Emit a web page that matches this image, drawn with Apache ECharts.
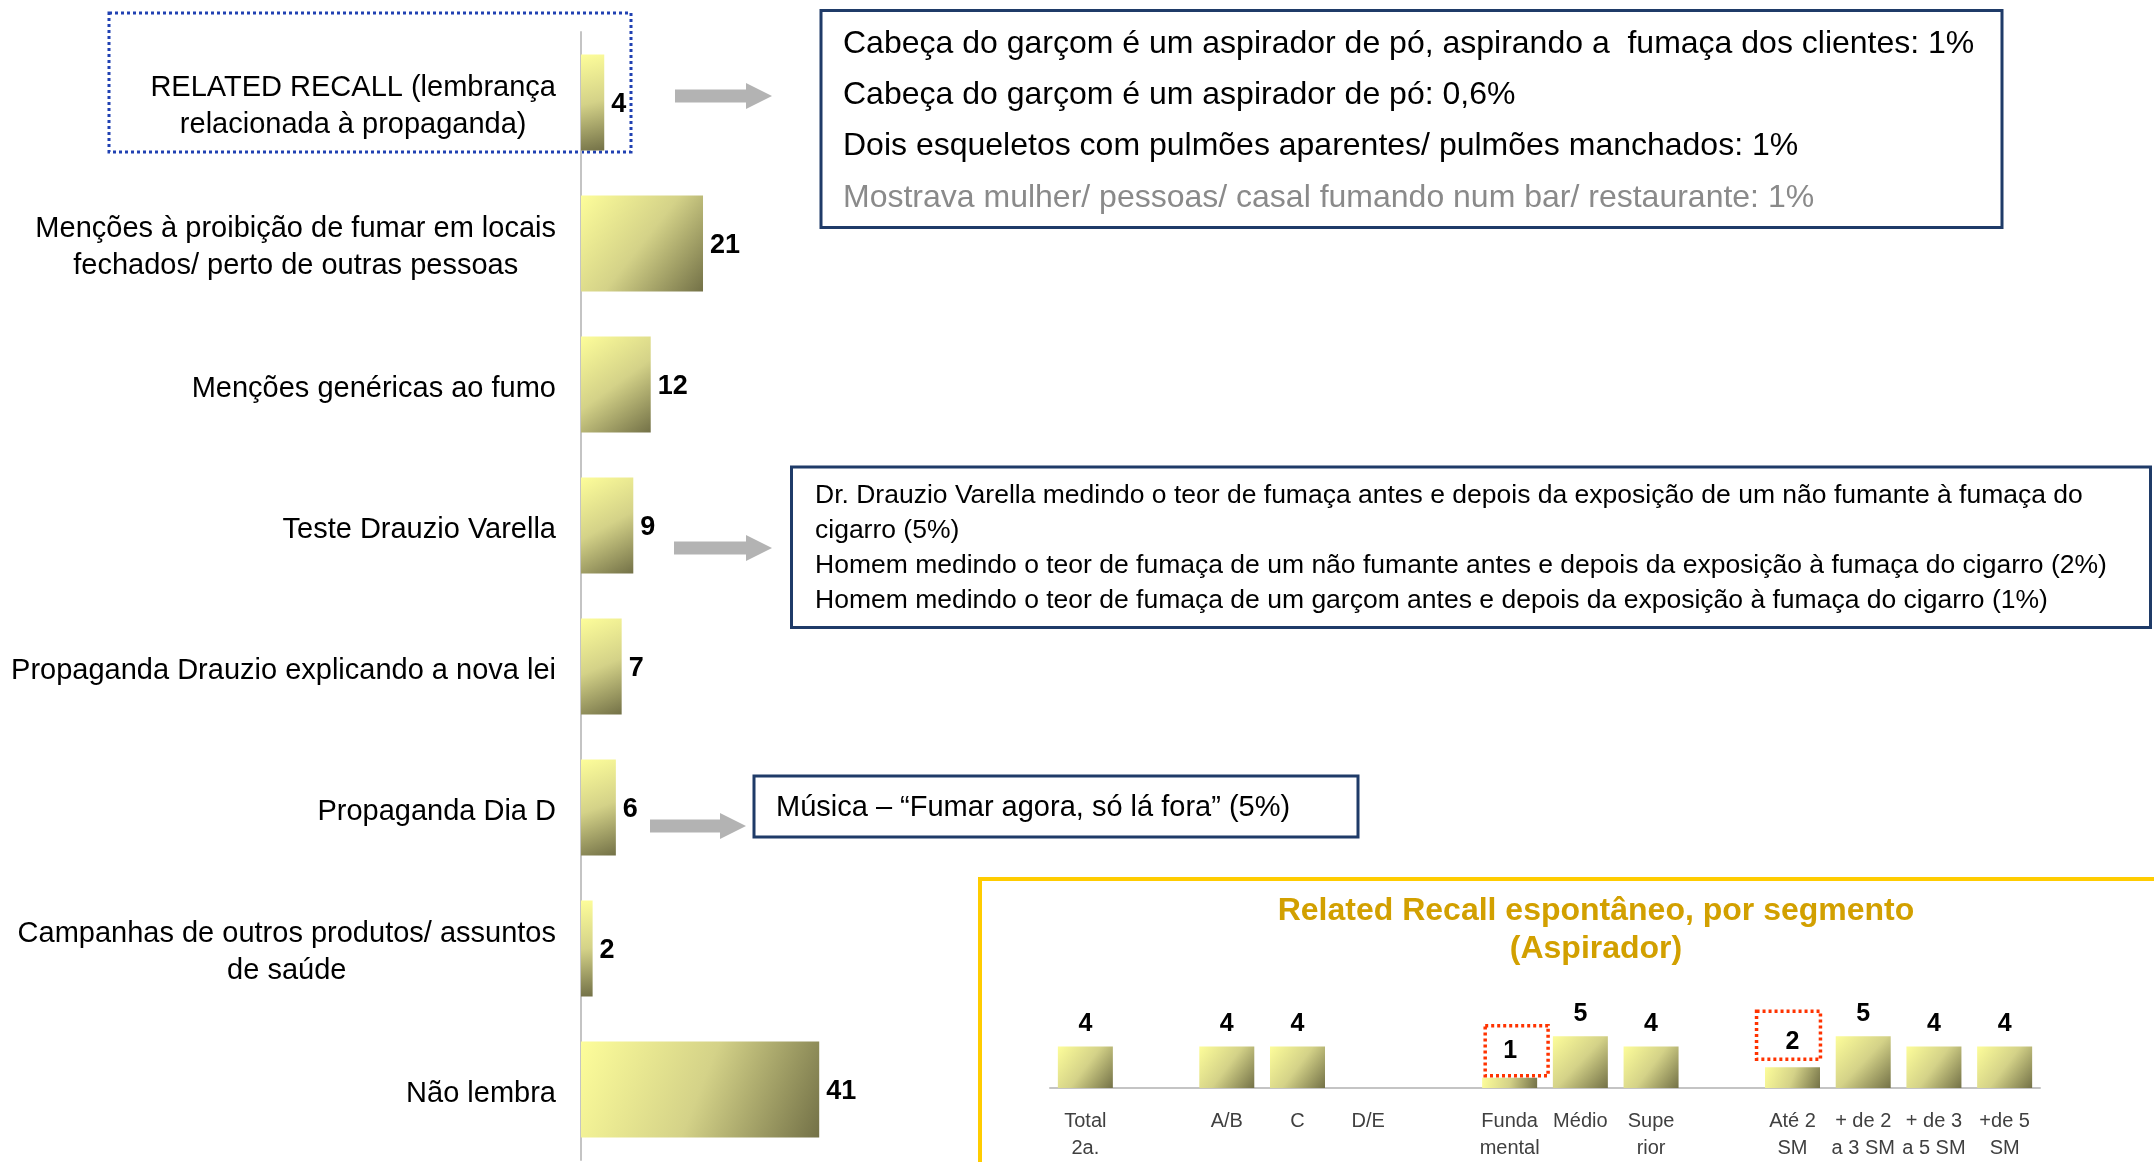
<!DOCTYPE html>
<html>
<head>
<meta charset="utf-8">
<script src="https://cdn.jsdelivr.net/npm/echarts@6/dist/echarts.min.js"></script>
<style>
  html, body { margin: 0; padding: 0; background: #ffffff; }
  #chart { width: 2154px; height: 1162px; }
</style>
</head>
<body>
<div id="chart"></div>
<script>
// Spontaneous recall of the campaign, % of respondents
const mentionCategories = [
  'RELATED RECALL (lembrança\nrelacionada à propaganda)',
  'Menções à proibição de fumar em locais\nfechados/ perto de outras pessoas',
  'Menções genéricas ao fumo',
  'Teste Drauzio Varella',
  'Propaganda Drauzio explicando a nova lei',
  'Propaganda Dia D',
  'Campanhas de outros produtos/ assuntos\nde saúde',
  'Não lembra'
];
const mentionValues = [4, 21, 12, 9, 7, 6, 2, 41];

// Related recall by segment (Aspirador); blank slots separate the groups
const segmentCategories = [
  'Total\n2a.', ' ', 'A/B', 'C', 'D/E', '  ',
  'Funda\nmental', 'Médio', 'Supe\nrior', '   ',
  'Até 2\nSM', '+ de 2\na 3 SM', '+ de 3\na 5 SM', '+de 5\nSM'
];
const segmentValues = [4, null, 4, 4, null, null, 1, 5, 4, null, 2, 5, 4, 4];

// Detail callouts
const recallDetails = [
  'Cabeça do garçom é um aspirador de pó, aspirando a  fumaça dos clientes: 1%',
  'Cabeça do garçom é um aspirador de pó: 0,6%',
  'Dois esqueletos com pulmões aparentes/ pulmões manchados: 1%',
  'Mostrava mulher/ pessoas/ casal fumando num bar/ restaurante: 1%'
];
const drauzioDetails = [
  'Dr. Drauzio Varella medindo o teor de fumaça antes e depois da exposição de um não fumante à fumaça do',
  'cigarro (5%)',
  'Homem medindo o teor de fumaça de um não fumante antes e depois da exposição à fumaça do cigarro (2%)',
  'Homem medindo o teor de fumaça de um garçom antes e depois da exposição à fumaça do cigarro (1%)'
];
const diaDDetails = ['Música – “Fumar agora, só lá fora” (5%)'];
const segmentTitle = ['Related Recall espontâneo, por segmento', '(Aspirador)'];

const FONT = '"Liberation Sans", Arial, Helvetica, sans-serif';
const NAVY = '#1F3B68';
const ARROW = '#B3B3B3';
const AXIS = '#C4C4C4';

function barGradient() {
  return new echarts.graphic.LinearGradient(0, 0, 1, 1, [
    { offset: 0, color: '#FDFD9A' },
    { offset: 0.5, color: '#D4D288' },
    { offset: 1, color: '#737147' }
  ]);
}

function arrow(x0, x1, cy) {
  const head = 26, half = 6.5, headHalf = 13;
  return {
    type: 'polygon',
    shape: { points: [
      [x0, cy - half], [x1 - head, cy - half], [x1 - head, cy - headHalf],
      [x1, cy], [x1 - head, cy + headHalf], [x1 - head, cy + half], [x0, cy + half]
    ] },
    style: { fill: ARROW },
    silent: true
  };
}

function textLines(lines, x, ys, size, colors, weight) {
  return lines.map((t, i) => ({
    type: 'text',
    silent: true,
    style: {
      text: t, x: x, y: ys[i],
      font: (weight || 'normal') + ' ' + size + 'px ' + FONT,
      fill: colors[i] || colors[0],
      textVerticalAlign: 'middle',
      textAlign: 'left'
    }
  }));
}

// Boxed value labels on two segments
const boxedLabels = {
  6: { padding: [13, 31, 12, 18], distance: 2, offset: [7, 0] },
  10: { padding: [18, 21, 5, 29], distance: 6, offset: [-4, -2] }
};
const segmentData = segmentValues.map((v, i) => {
  if (v === null) return null;
  const b = boxedLabels[i];
  if (!b) return v;
  return {
    value: v,
    label: {
      borderColor: '#FF3300',
      borderWidth: 3.5,
      borderType: [3, 3],
      padding: b.padding,
      distance: b.distance,
      offset: b.offset
    }
  };
});

const chart = echarts.init(document.getElementById('chart'), null, { renderer: 'canvas' });

const graphics = [
  // dotted frame around the related-recall row
  {
    type: 'rect', silent: true,
    shape: { x: 109, y: 13, width: 522, height: 139 },
    style: { fill: 'none', stroke: '#2041B2', lineWidth: 3, lineDash: [3, 3] }
  },
  arrow(675, 772, 96),
  arrow(674, 772, 548),
  arrow(650, 746, 826),
  {
    type: 'rect', silent: true,
    shape: { x: 821, y: 10.5, width: 1181, height: 217 },
    style: { fill: '#ffffff', stroke: NAVY, lineWidth: 3 }
  },
  {
    type: 'rect', silent: true,
    shape: { x: 791.5, y: 467, width: 1359, height: 160.5 },
    style: { fill: '#ffffff', stroke: NAVY, lineWidth: 3 }
  },
  {
    type: 'rect', silent: true,
    shape: { x: 754, y: 776, width: 604, height: 61 },
    style: { fill: '#ffffff', stroke: NAVY, lineWidth: 3 }
  },
  // gold frame of the segment panel
  {
    type: 'rect', silent: true,
    shape: { x: 980, y: 879, width: 1400, height: 600 },
    style: { fill: 'none', stroke: '#FFCC00', lineWidth: 4 }
  }
]
  .concat(textLines(recallDetails, 843, [44, 95, 146, 198], 32, ['#000', '#000', '#000', '#8A8A8A']))
  .concat(textLines(drauzioDetails, 815, [496, 531, 566, 601], 26.5, ['#000']))
  .concat(textLines(diaDDetails, 776, [808], 29, ['#000']))
  .concat(segmentTitle.map((t, i) => ({
    type: 'text', silent: true,
    style: {
      text: t, x: 1596, y: [911, 949][i],
      font: 'bold 32px ' + FONT, fill: '#D2A000',
      textAlign: 'center', textVerticalAlign: 'middle'
    }
  })));

const option = {
  backgroundColor: '#ffffff',
  animation: false,
  textStyle: { fontFamily: FONT },
  grid: [
    { left: 581, top: 32, width: 581, height: 1128 },
    { left: 1050, top: 984.4, width: 990, height: 104.6 }
  ],
  xAxis: [
    { gridIndex: 0, type: 'value', min: 0, max: 100, show: false },
    {
      gridIndex: 1, type: 'category', data: segmentCategories,
      axisLine: { lineStyle: { color: AXIS, width: 2 } },
      axisTick: { length: 7, lineStyle: { color: AXIS, width: 2 } },
      axisLabel: {
        interval: 0, margin: 20, color: '#404040',
        fontFamily: FONT, fontSize: 20, lineHeight: 27
      }
    }
  ],
  yAxis: [
    {
      gridIndex: 0, type: 'category', data: mentionCategories, inverse: true,
      axisLine: { lineStyle: { color: AXIS, width: 2 } },
      axisTick: { length: 10, lineStyle: { color: AXIS, width: 2 } },
      axisLabel: {
        margin: 25, color: '#000', fontFamily: FONT, fontSize: 29, lineHeight: 37,
        padding: [8, 0, 0, 0],
        formatter: v => v.split('\n').map(s => '{c|' + s + '}').join('\n'),
        rich: { c: { align: 'center', color: '#000', fontFamily: FONT, fontSize: 29, lineHeight: 37 } }
      }
    },
    { gridIndex: 1, type: 'value', min: 0, max: 10, show: false }
  ],
  series: [
    {
      type: 'bar', xAxisIndex: 0, yAxisIndex: 0,
      data: mentionValues,
      barCategoryGap: '32%',
      itemStyle: { color: barGradient() },
      label: {
        show: true, position: 'right', distance: 7, offset: [0, 2],
        color: '#000', fontFamily: FONT, fontWeight: 'bold', fontSize: 27
      }
    },
    {
      type: 'bar', xAxisIndex: 1, yAxisIndex: 1,
      data: segmentData,
      barWidth: 55,
      itemStyle: { color: barGradient() },
      label: {
        show: true, position: 'top', distance: 10,
        color: '#000', fontFamily: FONT, fontWeight: 'bold', fontSize: 25
      }
    }
  ],
  graphic: { elements: graphics }
};

chart.setOption(option);
</script>
</body>
</html>
